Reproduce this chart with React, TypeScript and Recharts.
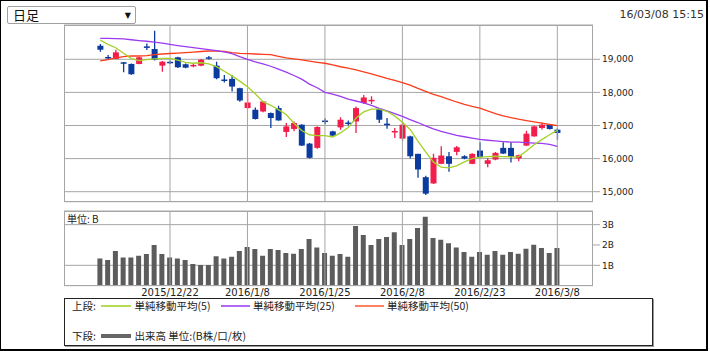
import React from 'react';
import { ComposedChart, Bar, Line, XAxis, YAxis, CartesianGrid, ReferenceLine } from 'recharts';

const dates = [
  '2015/12/9', '2015/12/10', '2015/12/11', '2015/12/14', '2015/12/15', '2015/12/16', '2015/12/17', '2015/12/18', '2015/12/21', '2015/12/22',
  '2015/12/24', '2015/12/25', '2015/12/28', '2015/12/29', '2015/12/30', '2016/1/4', '2016/1/5', '2016/1/6', '2016/1/7', '2016/1/8',
  '2016/1/12', '2016/1/13', '2016/1/14', '2016/1/15', '2016/1/18', '2016/1/19', '2016/1/20', '2016/1/21', '2016/1/22', '2016/1/25',
  '2016/1/26', '2016/1/27', '2016/1/28', '2016/1/29', '2016/2/1', '2016/2/2', '2016/2/3', '2016/2/4', '2016/2/5', '2016/2/8',
  '2016/2/9', '2016/2/10', '2016/2/12', '2016/2/15', '2016/2/16', '2016/2/17', '2016/2/18', '2016/2/19', '2016/2/22', '2016/2/23',
  '2016/2/24', '2016/2/25', '2016/2/26', '2016/2/29', '2016/3/1', '2016/3/2', '2016/3/3', '2016/3/4', '2016/3/7', '2016/3/8',
];

const opens = [
  19409, 19070, 19009, 18910, 18859, 18859, 19390, 19310, 18808, 18925,
  19060, 18850, 18790, 18808, 19060, 18808, 18390, 18408, 18128, 17526,
  17475, 17424, 17376, 17526, 16805, 16895, 17024, 16453, 16323, 17150,
  16823, 16943, 17090, 17124, 17677, 17755, 17505, 17055, 16810, 16603,
  16672, 16143, 15439, 15250, 15842, 16071, 16203, 16071, 15842, 16243,
  15842, 15972, 16324, 16324, 16002, 16393, 16672, 16925, 17024, 16874,
];
const highs = [
  19460, 19130, 19289, 18920, 18870, 19075, 19480, 19860, 18950, 18960,
  19080, 18870, 18880, 19010, 19100, 18928, 18528, 18528, 18140, 17977,
  17544, 17740, 17390, 17595, 17075, 17120, 17040, 16470, 16980, 17215,
  16840, 17250, 17150, 17574, 17920, 17880, 17510, 17230, 16925, 17105,
  16690, 16150, 15480, 16143, 16372, 16203, 16380, 16100, 16160, 16492,
  16020, 16200, 16492, 16492, 16120, 16844, 16990, 17090, 17040, 16920,
];
const lows = [
  19229, 18990, 19000, 18609, 18530, 18850, 19280, 18960, 18627, 18860,
  18740, 18730, 18760, 18790, 18990, 18400, 18296, 18026, 17720, 17510,
  17180, 17400, 16925, 17140, 16654, 16823, 16380, 16000, 16300, 17040,
  16680, 16874, 17000, 16775, 17647, 17650, 17075, 16900, 16620, 16522,
  16000, 15421, 14900, 15230, 15830, 15602, 16102, 15980, 15830, 16040,
  15740, 15950, 16140, 15880, 15920, 16380, 16660, 16880, 16880, 16573,
];
const closes = [
  19289, 19050, 19210, 18890, 18549, 19060, 19370, 18988, 18928, 18895,
  18759, 18748, 18830, 18988, 19040, 18429, 18370, 18176, 17755, 17695,
  17196, 17725, 17226, 17153, 16973, 17075, 16393, 16023, 16955, 17130,
  16693, 17174, 17070, 17526, 17846, 17775, 17174, 17040, 16835, 17024,
  16071, 15671, 14940, 16023, 16093, 15842, 16342, 16002, 16143, 16053,
  15950, 16173, 16152, 16053, 16102, 16753, 16973, 17024, 16895, 16775,
];

const ma5 = [
  19580, 19450, 19350, 19180, 19020, 18960, 18990, 19010, 19030, 19030,
  18975, 18910, 18880, 18895, 18860, 18780, 18640, 18500, 18340, 18170,
  17960, 17720, 17610, 17480, 17330, 17070, 16850, 16720, 16693, 16693,
  16654, 16775, 16940, 17220, 17410, 17496, 17496, 17430, 17290, 17100,
  16880, 16530, 16200, 15900, 15740, 15722, 15780, 15900, 16000, 16040,
  16060, 16071, 16060, 16055, 16053, 16230, 16420, 16573, 16720, 16853,
];
const ma25 = [
  19632, 19630, 19625, 19615, 19590, 19565, 19545, 19520, 19490, 19450,
  19415, 19380, 19350, 19320, 19290, 19260, 19225, 19170, 19080, 19000,
  18920, 18860, 18790, 18700, 18610, 18510, 18400, 18250, 18140, 18000,
  17950, 17880, 17800, 17740, 17680, 17610, 17520, 17440, 17360, 17274,
  17180, 17090, 16990, 16900, 16820, 16760, 16700, 16660, 16620, 16580,
  16555, 16535, 16515, 16500, 16495, 16485, 16470, 16460, 16430, 16372,
];
const ma50 = [
  18950, 18990, 19040, 19080, 19100, 19100, 19110, 19140, 19160, 19175,
  19185, 19200, 19215, 19235, 19250, 19245, 19235, 19200, 19180, 19170,
  19160, 19150, 19140, 19090, 19040, 19010, 18980, 18945, 18910, 18880,
  18830, 18775, 18730, 18680, 18620, 18560, 18490, 18420, 18360, 18296,
  18220, 18120, 18030, 17940, 17870, 17790, 17710, 17640, 17580, 17526,
  17440, 17360, 17290, 17240, 17190, 17150, 17110, 17070, 17030, 16994,
];

const volumes = [
  1.34, 1.26, 1.70, 1.39, 1.39, 1.47, 1.56, 2.00, 1.56, 1.39,
  1.34, 1.26, 1.06, 1.01, 1.01, 1.44, 1.34, 1.42, 1.70, 1.90,
  1.80, 1.47, 1.80, 1.75, 1.60, 1.57, 1.80, 2.29, 1.88, 1.60,
  1.47, 1.56, 1.42, 2.93, 2.49, 2.00, 2.29, 2.39, 2.62, 2.00,
  2.29, 2.83, 3.39, 2.34, 2.26, 2.08, 1.88, 1.65, 1.42, 1.65,
  1.52, 1.70, 1.52, 1.65, 1.57, 1.82, 2.01, 1.85, 1.60, 1.85,
];

const gridDates = ['2015/12/22', '2016/1/8', '2016/1/25', '2016/2/8', '2016/2/23', '2016/3/8'];
const priceTicks = [15000, 16000, 17000, 18000, 19000];
const volumeTicks = [1, 2, 3];

const rows = dates.map((d, i) => ({
  d,
  open: opens[i],
  high: highs[i],
  low: lows[i],
  close: closes[i],
  range: [lows[i], highs[i]],
  ma5: ma5[i],
  ma25: ma25[i],
  ma50: ma50[i],
  vol: volumes[i],
}));

const RED = '#f21d4b';
const BLUE = '#0b3b9e';
const GRID = '#a6a6a6';
const FONT = '"DejaVu Sans", sans-serif';
const JFONT = '"Noto Sans CJK JP", sans-serif';
const XPAD = { left: 32.4, right: 31.8 };

const Candle = (props: any) => {
  const { x, y, width, height, payload } = props;
  if (!payload || x == null || y == null) return null;
  const { open, close, high, low } = payload;
  const top = Math.min(y, y + height);
  const h = Math.abs(height);
  const k = high === low ? 0 : h / (high - low);
  const py = (v: number) => top + (high - v) * k;
  const up = close >= open;
  const color = up ? RED : BLUE;
  const cx = x + width / 2;
  const bt = py(Math.max(open, close));
  const bb = py(Math.min(open, close));
  const bh = Math.max(bb - bt, 1.5);
  return (
    <g>
      <line x1={cx} x2={cx} y1={top} y2={top + h} stroke={color} strokeWidth={1.3} />
      <rect x={x} y={bt} width={width} height={bh} fill={color} />
    </g>
  );
};

const fmt = (v: number) => v.toLocaleString('en-US');

export default function App() {
  return (
    <div style={{ position: 'absolute', left: 0, top: 0, width: 710, height: 351, background: '#fff', overflow: 'hidden' }}>
      <div style={{ position: 'absolute', left: 0, top: 0, width: 708, height: 351, boxSizing: 'border-box', borderTop: '1px solid #000', borderLeft: '1px solid #000', borderRight: '2px solid #000', borderBottom: '2px solid #000' }} />

      <div style={{ position: 'absolute', left: 7, top: 6, width: 129, height: 18, boxSizing: 'border-box', border: '1px solid #a0a0a0', borderRadius: 2, background: '#fff' }}>
        <span style={{ position: 'absolute', left: 5, top: 0, fontFamily: JFONT, fontSize: 13, lineHeight: '16px', color: '#111' }}>日足</span>
        <span style={{ position: 'absolute', right: 4, top: 1, fontFamily: FONT, fontSize: 8, lineHeight: '16px', color: '#111' }}>▼</span>
      </div>
      <div style={{ position: 'absolute', left: 590, top: 8, width: 114, textAlign: 'right', fontFamily: FONT, fontSize: 11, lineHeight: '14px', color: '#333' }}>16/03/08 15:15</div>

      <div style={{ position: 'absolute', left: 0, top: 0 }}>
        <ComposedChart width={710} height={210} data={rows} margin={{ top: 25, right: 0, bottom: 8.3, left: 64 }}>
          <CartesianGrid vertical={false} stroke={GRID} />
          <XAxis dataKey="d" hide padding={XPAD} />
          <YAxis
            orientation="right"
            width={117}
            domain={[14698, 20036]}
            allowDataOverflow
            ticks={priceTicks}
            tickFormatter={fmt}
            axisLine={false}
            tickLine={{ stroke: GRID }}
            tickSize={7}
            tickMargin={2}
            tick={{ fontSize: 9, fill: '#222', fontFamily: FONT }}
          />
          {gridDates.map((g) => (
            <ReferenceLine key={g} x={g} stroke={GRID} />
          ))}
          <Line dataKey="ma50" stroke="#fa3d1c" strokeWidth={1.3} dot={false} isAnimationActive={false} />
          <Line dataKey="ma25" stroke="#9b3cf0" strokeWidth={1.3} dot={false} isAnimationActive={false} />
          <Line dataKey="ma5" stroke="#a3d12a" strokeWidth={1.3} dot={false} isAnimationActive={false} />
          <Bar dataKey="range" barSize={6} shape={<Candle />} isAnimationActive={false} />
        </ComposedChart>
      </div>
      <div style={{ position: 'absolute', left: 64, top: 25, width: 529, height: 176.7, boxSizing: 'border-box', border: `1px solid ${GRID}`, pointerEvents: 'none' }} />

      <div style={{ position: 'absolute', left: 0, top: 205 }}>
        <ComposedChart width={710} height={100} data={rows} margin={{ top: 6, right: 0, bottom: 0, left: 64 }}>
          <CartesianGrid vertical={false} stroke={GRID} />
          <XAxis
            dataKey="d"
            ticks={gridDates}
            interval={0}
            height={19.35}
            padding={XPAD}
            axisLine={false}
            tickLine={false}
            tickSize={0}
            tickMargin={3}
            tick={{ fontSize: 10, fill: '#222', fontFamily: FONT }}
          />
          <YAxis
            orientation="right"
            width={117}
            domain={[0, 3.67]}
            allowDataOverflow
            ticks={volumeTicks}
            tickFormatter={(v: number) => `${v}B`}
            axisLine={false}
            tickLine={{ stroke: GRID }}
            tickSize={7}
            tickMargin={2}
            tick={{ fontSize: 9, fill: '#222', fontFamily: FONT }}
          />
          {gridDates.map((g) => (
            <ReferenceLine key={g} x={g} stroke={GRID} />
          ))}
          <Bar dataKey="vol" barSize={5} fill="#5c5c5c" isAnimationActive={false} />
        </ComposedChart>
      </div>
      <div style={{ position: 'absolute', left: 64, top: 211, width: 529, height: 74.65, boxSizing: 'border-box', border: `1px solid ${GRID}`, pointerEvents: 'none' }} />
      <div style={{ position: 'absolute', left: 67, top: 212, fontFamily: JFONT, fontSize: 10, lineHeight: '14px', color: '#222' }}>単位: B</div>

      <div style={{ position: 'absolute', left: 64, top: 298, width: 589, height: 48, boxSizing: 'border-box', border: '1px solid #222', boxShadow: '1px 1px 0 #999' }} />
      <div style={{ position: 'absolute', left: 72, top: 298, fontFamily: JFONT, fontSize: 10.5, lineHeight: '16px', color: '#222' }}>上段:</div>
      <div style={{ position: 'absolute', left: 101, top: 305, width: 30, height: 2, background: '#b4dd55' }} />
      <div style={{ position: 'absolute', left: 134.5, top: 298, fontFamily: JFONT, fontSize: 10.5, lineHeight: '16px', color: '#222' }}>単純移動平均(5)</div>
      <div style={{ position: 'absolute', left: 220.5, top: 305, width: 29, height: 2, background: '#b069f0' }} />
      <div style={{ position: 'absolute', left: 253, top: 298, fontFamily: JFONT, fontSize: 10.5, lineHeight: '16px', color: '#222' }}>単純移動平均(25)</div>
      <div style={{ position: 'absolute', left: 354.5, top: 305, width: 29, height: 2, background: '#ff8060' }} />
      <div style={{ position: 'absolute', left: 387, top: 298, fontFamily: JFONT, fontSize: 10.5, lineHeight: '16px', color: '#222' }}>単純移動平均(50)</div>
      <div style={{ position: 'absolute', left: 72, top: 328, fontFamily: JFONT, fontSize: 10.5, lineHeight: '16px', color: '#222' }}>下段:</div>
      <div style={{ position: 'absolute', left: 101, top: 334, width: 30, height: 4, background: '#666' }} />
      <div style={{ position: 'absolute', left: 134.5, top: 328, fontFamily: JFONT, fontSize: 10.5, lineHeight: '16px', color: '#222' }}>出来高 単位:(B株/口/枚)</div>
    </div>
  );
}
